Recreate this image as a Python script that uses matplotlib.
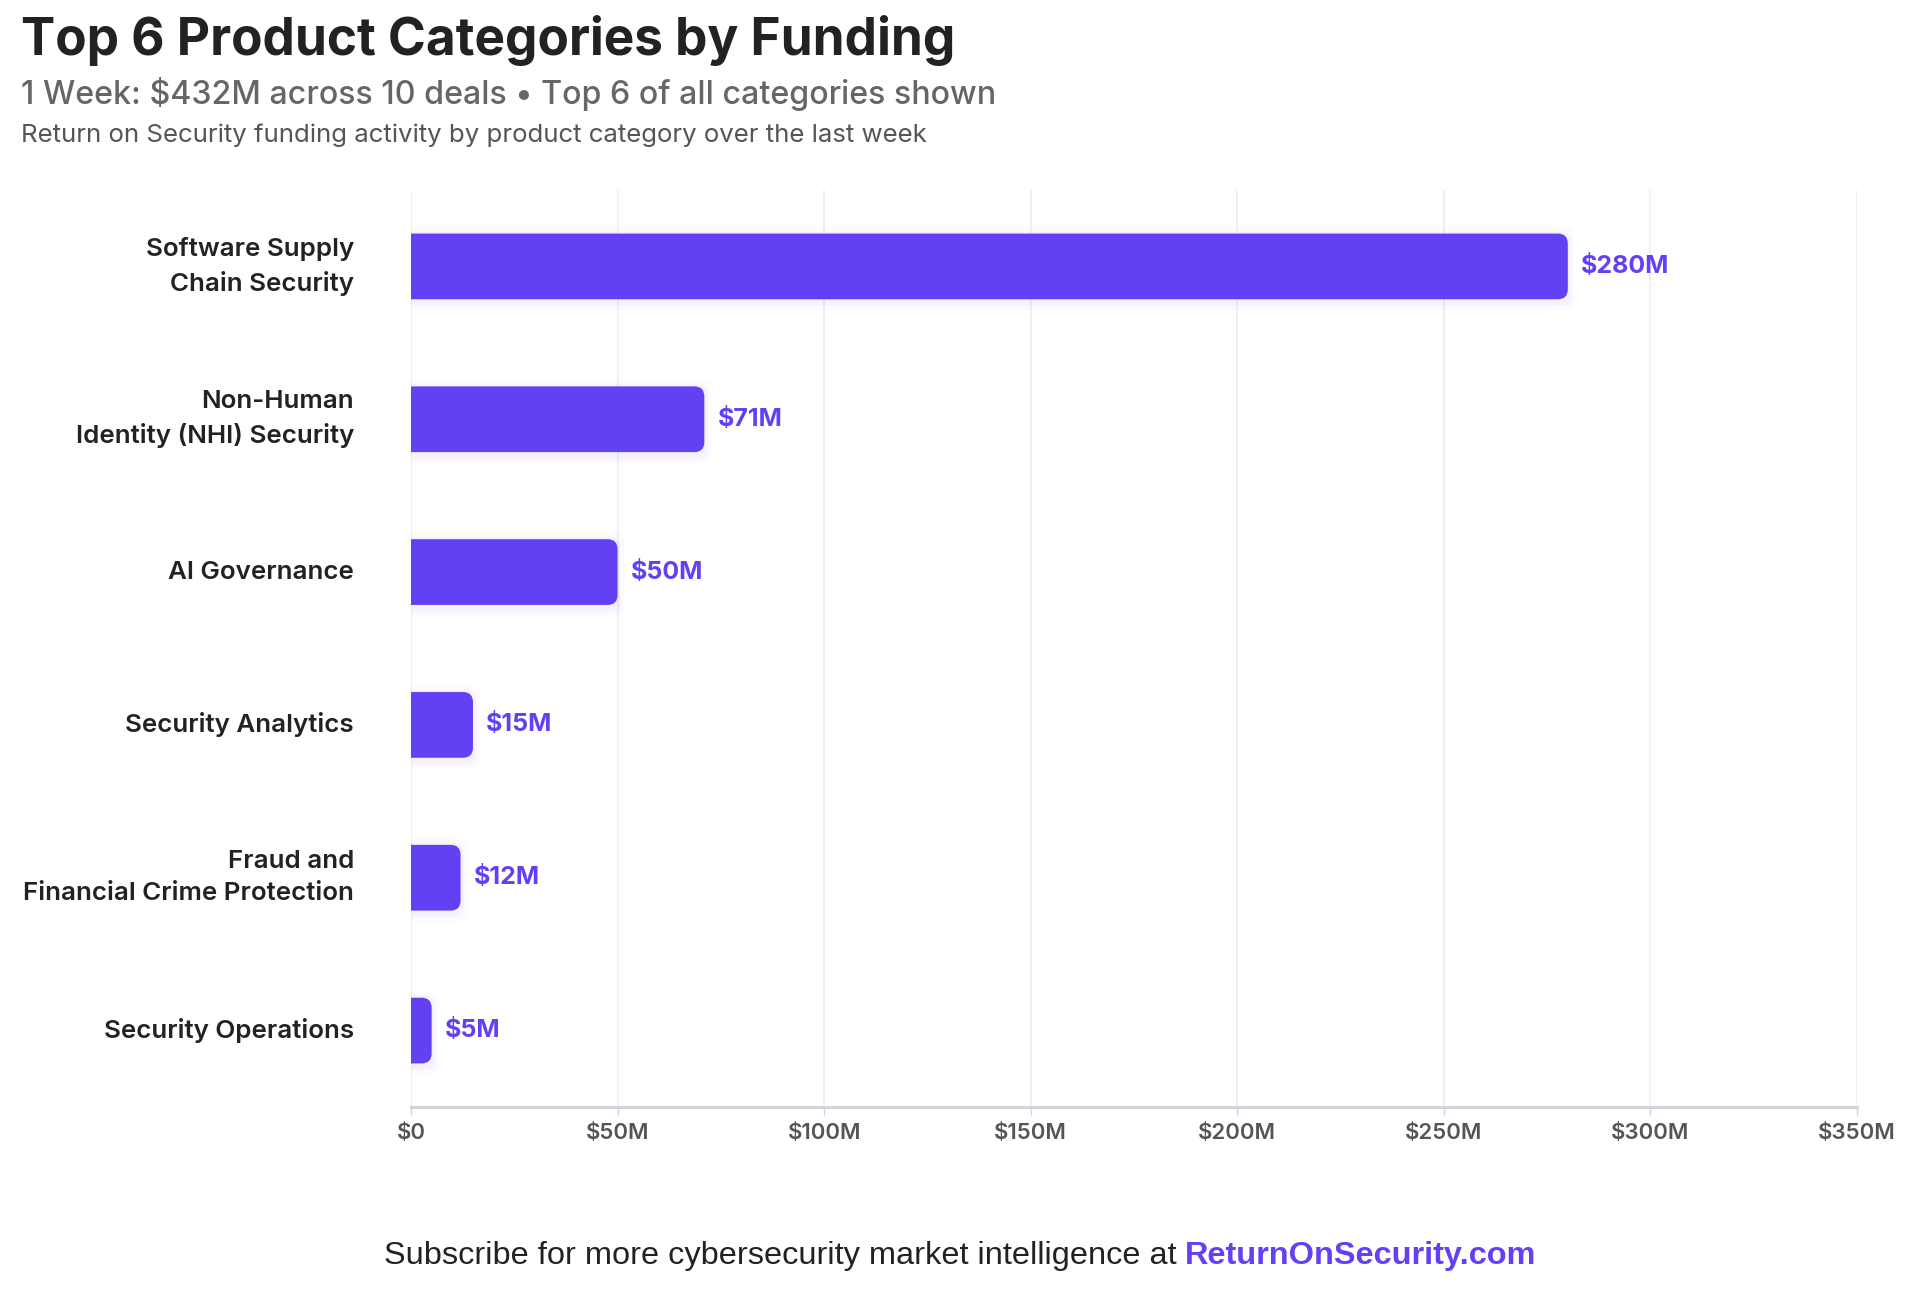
import matplotlib
matplotlib.use("Agg")
import matplotlib.pyplot as plt
from matplotlib.path import Path
from matplotlib.patches import PathPatch

categories = ["Software Supply\nChain Security", "Non-Human\nIdentity (NHI) Security",
              "AI Governance", "Security Analytics",
              "Fraud and\nFinancial Crime Protection", "Security Operations"]
values = [280, 71, 50, 15, 12, 5]
value_labels = ["$280M", "$71M", "$50M", "$15M", "$12M", "$5M"]
xticks = [0, 50, 100, 150, 200, 250, 300, 350]
xtick_labels = ["$0", "$50M", "$100M", "$150M", "$200M", "$250M", "$300M", "$350M"]

title = "Top 6 Product Categories by Funding"
subtitle = "1 Week: $432M across 10 deals \u2022 Top 6 of all categories shown"
desc = "Return on Security funding activity by product category over the last week"
footer1 = "Subscribe for more cybersecurity market intelligence at "
footer2 = "ReturnOnSecurity.com"

PURPLE = "#6340F3"
plt.rcParams['font.family'] = ['Inter', 'DejaVu Sans']

fig = plt.figure(figsize=(19.2, 12.99), dpi=100)
ax = fig.add_axes([411/1920, 1 - 1107/1299, (1857-411)/1920, (1107-190)/1299])

ypos = list(range(len(categories)))
bars = ax.barh(ypos, values, height=0.43, color=PURPLE)
ax.set_xlim(0, 350)
ax.set_ylim(5.5, -0.5)

# rounded right end
rx, ry = 2.4, 0.066
for b in bars:
    x0 = b.get_x(); w = b.get_width(); y0 = b.get_y(); h = b.get_height()
    x1 = x0 + w; y1 = y0 + h
    r = min(rx, w / 2)
    verts = [(x0, y0), (x1 - r, y0), (x1, y0), (x1, y0 + ry), (x1, y1 - ry), (x1, y1), (x1 - r, y1), (x0, y1), (x0, y0)]
    codes = [Path.MOVETO, Path.LINETO, Path.CURVE3, Path.CURVE3, Path.LINETO, Path.CURVE3, Path.CURVE3, Path.LINETO, Path.CLOSEPOLY]
    # soft shadow
    for k, a in [(1.6, 0.025), (0.8, 0.04)]:
        sv = [(vx + (k * 1.0 if vx > x0 else 0), vy + (k * 0.035 if vy > (y0 + y1) / 2 else -k * 0.035) + 0.015) for vx, vy in verts]
        ax.add_patch(PathPatch(Path(sv, codes), facecolor=PURPLE, edgecolor='none', alpha=a, zorder=2))
    ax.add_patch(PathPatch(Path(verts, codes), facecolor=PURPLE, edgecolor='none', zorder=3))
    b.set_visible(False)

for y, v, lab in zip(ypos, values, value_labels):
    ax.text(v + 3.2, y, lab, va='center', ha='left', fontsize=18, fontweight='bold', color=PURPLE, zorder=4)

ax.set_yticks(ypos)
ax.set_yticklabels(categories, fontsize=18.7, fontweight='semibold', color='#222222', linespacing=1.5)
for t in ax.get_yticklabels():
    t.set_verticalalignment('center')
ax.tick_params(axis='y', length=0, pad=41)
ax.set_xticks(xticks)
ax.set_xticklabels(xtick_labels, fontsize=16, fontweight='semibold', color='#555555')
ax.tick_params(axis='x', length=6, width=1, color='#d4d4dc', pad=5.5)

ax.grid(axis='x', color='#eeeef2', linewidth=1.2, zorder=0)
ax.set_axisbelow(True)
for s in ['top', 'right', 'left']:
    ax.spines[s].set_visible(False)
ax.spines['bottom'].set_color('#d4d4dc')
ax.spines['bottom'].set_linewidth(2.2)

fig.text(21/1920, 1 - 41/1299, title, fontsize=37, fontweight='bold', color='#222222', va='center', ha='left')
fig.text(21/1920, 1 - 94/1299, subtitle, fontsize=23.2, fontweight='medium', color='#666666', va='center', ha='left')
fig.text(21/1920, 1 - 135/1299, desc, fontsize=18.6, color='#555555', va='center', ha='left')

# footer centred
fig.canvas.draw()
r = fig.canvas.get_renderer()
t1 = fig.text(0, 0, footer1, fontsize=23.4, color='#222222', family=['Liberation Sans'], va='center', ha='left')
t2 = fig.text(0, 0, footer2, fontsize=23.4, color=PURPLE, fontweight='bold', family=['Liberation Sans'], va='center', ha='left')
w1 = t1.get_window_extent(r).width
w2 = t2.get_window_extent(r).width
W = fig.bbox.width
start = (W - (w1 + w2)) / 2
yf = 1 - 1256/1299
t1.set_position((start / W, yf))
t2.set_position(((start + w1) / W, yf))

fig.savefig("out.png", dpi=100, facecolor='white')
